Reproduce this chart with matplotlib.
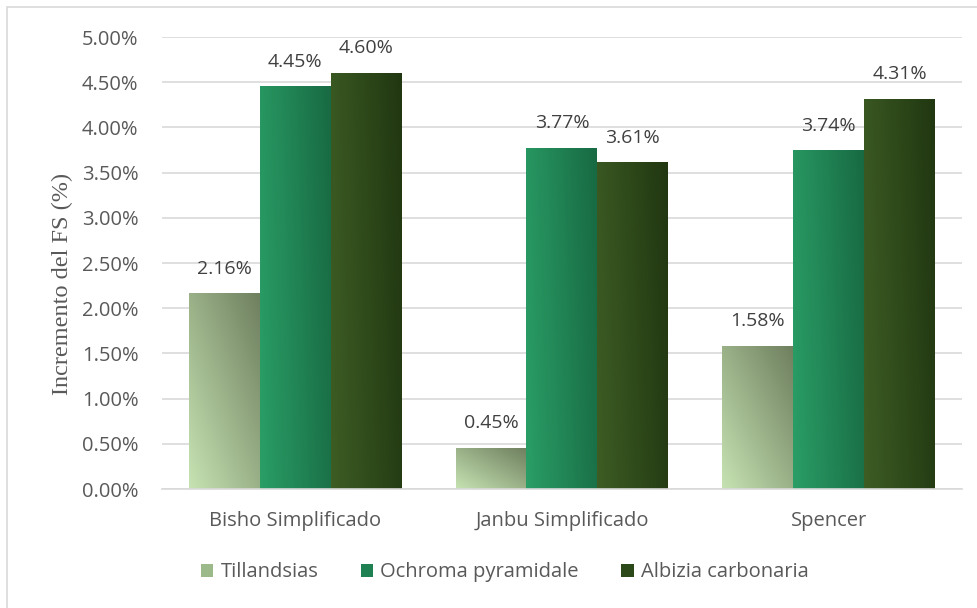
import numpy as np
import matplotlib.pyplot as plt
from matplotlib.patches import Patch, Rectangle
from matplotlib.colors import LinearSegmentedColormap

metodos = ['Bisho Simplificado', 'Janbu Simplificado', 'Spencer']
especies = ['Tillandsias', 'Ochroma pyramidale', 'Albizia carbonaria']
tillandsias = [2.16, 0.45, 1.58]
ochroma = [4.45, 3.77, 3.74]
albizia = [4.60, 3.61, 4.31]

# gradient end points (bottom-left -> top-right) for each series
grad_colors = [('#c6e2b2', '#6f805f'),
               ('#2a9e66', '#186a43'),
               ('#3d5d24', '#213711')]
grad_tilt = [0.5, 0.15, 0.15]
legend_colors = ['#9cb98a', '#1f8052', '#2c4a19']
font = 'Open Sans'

fig = plt.figure(figsize=(9.78, 6.08), dpi=100)
ax = fig.add_axes([0.1656, 0.1957, 0.818, 0.7433])

x = np.arange(len(metodos))
width = 0.266
series = [tillandsias, ochroma, albizia]


def gradient_bar(ax, x0, w, h, c0, c1, tilt):
    cmap = LinearSegmentedColormap.from_list('g', [c0, c1])
    gx, gy = np.meshgrid(np.linspace(0, 1, 64), np.linspace(0, 1, 64))
    grad = (1 - tilt) * gx + tilt * gy
    ax.imshow(grad, cmap=cmap, extent=(x0, x0 + w, 0, h), origin='lower',
              aspect='auto', zorder=2, interpolation='bilinear', vmin=0, vmax=1)


for i, (vals, (c0, c1)) in enumerate(zip(series, grad_colors)):
    offs = x + (i - 1) * width
    for xc, v in zip(offs, vals):
        gradient_bar(ax, xc - width / 2, width, v, c0, c1, grad_tilt[i])
        ax.annotate(f'{v:.2f}%', (xc, v), xytext=(0, 18), textcoords='offset points',
                    ha='center', va='center', fontsize=14, color='#404040',
                    family=font, zorder=3)

ax.set_xlim(-0.5, 2.5)
ax.set_ylim(0, 5.0)
ax.set_yticks(np.arange(0, 5.01, 0.5))
ax.set_yticklabels([f'{t:.2f}%' for t in np.arange(0, 5.01, 0.5)])
ax.set_xticks(x)
ax.set_xticklabels(metodos)
ax.tick_params(axis='y', length=0, labelsize=14.5, labelcolor='#595959', pad=17)
ax.tick_params(axis='x', length=0, labelsize=14.5, labelcolor='#595959', pad=16)
for lab in ax.get_xticklabels() + ax.get_yticklabels():
    lab.set_family(font)
ax.grid(axis='y', color='#d9d9d9', linewidth=1.2, zorder=0)
ax.set_axisbelow(True)
for s in ['top', 'right', 'left']:
    ax.spines[s].set_visible(False)
ax.spines['bottom'].set_color('#d9d9d9')
ax.spines['bottom'].set_linewidth(1.2)
ax.set_ylabel('Incremento del FS (%)', family='Liberation Serif',
              fontsize=17.5, color='#595959')
ax.yaxis.set_label_coords(-0.111, 0.4535)

handles = [Patch(facecolor=c, edgecolor='none') for c in legend_colors]
fig.legend(handles, especies, loc='center', bbox_to_anchor=(0.516, 0.059),
           ncol=3, frameon=False, handlelength=0.62, handleheight=0.62,
           columnspacing=2.1, handletextpad=0.35,
           prop={'family': font, 'size': 14.5}, labelcolor='#595959')

# chart-area outline, running off the right and bottom edges
fig.patches.append(Rectangle((0.0072, -0.02), 1.1, 1.0085, transform=fig.transFigure,
                             fill=False, edgecolor='#d9d9d9', linewidth=1.2))

fig.savefig('out.png', dpi=100)
